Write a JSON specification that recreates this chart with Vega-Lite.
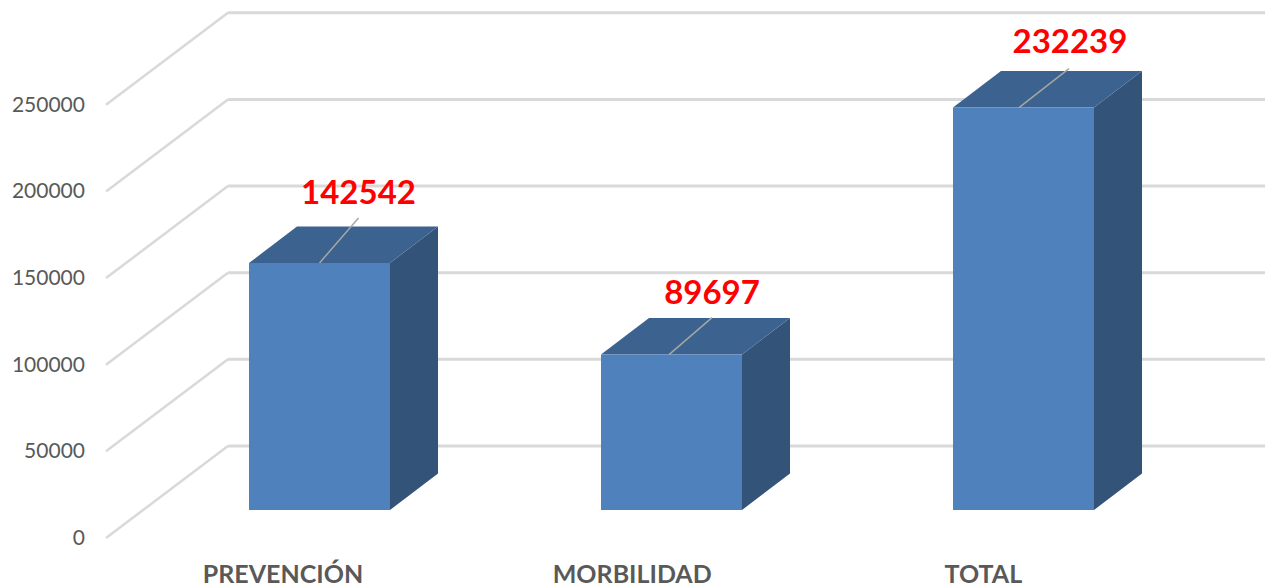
{
"$schema":"https://vega.github.io/schema/vega-lite/v6.json",
"width":1265,"height":587,
"autosize":{"type":"none"},
"padding":0,
"background":"#ffffff",
"config":{"view":{"stroke":null}},
"datasets":{
"barras":[{"categoria":"PREVENCIÓN","valor":142542},{"categoria":"MORBILIDAD","valor":89697},{"categoria":"TOTAL","valor":232239}],
"marcas":[{"marca":0},{"marca":50000},{"marca":100000},{"marca":150000},{"marca":200000},{"marca":250000}]
},
"layer":[
{"data":{"name":"marcas"},
 "transform":[{"calculate":"datum.marca+36936","as":"fondo"},{"calculate":"-0.26","as":"x0"},{"calculate":"2.6861","as":"x1"}],
 "mark":{"type":"rule","color":"#d9d9d9","strokeWidth":3},
 "encoding":{"x":{"field":"x0","type":"quantitative","axis":null,"scale":{"domain":[-0.90767,2.6861],"nice":false,"zero":false}},"x2":{"field":"x1"},"y":{"field":"fondo","type":"quantitative","axis":null,"scale":{"domain":[-44436,294320],"nice":false,"zero":false}}}},
{"data":{"name":"marcas"},
 "transform":[{"calculate":"datum.marca+36936","as":"fondo"},{"calculate":"datum.marca-16160","as":"frente"},{"calculate":"-0.6065","as":"x0"},{"calculate":"-0.26","as":"x1"}],
 "mark":{"type":"rule","color":"#d9d9d9","strokeWidth":2.5},
 "encoding":{"x":{"field":"x0","type":"quantitative","axis":null},"x2":{"field":"x1"},"y":{"field":"frente","type":"quantitative","axis":null},"y2":{"field":"fondo"}}},
{"data":{"name":"marcas"},
 "transform":[{"calculate":"datum.marca-16700","as":"yt"},{"calculate":"-0.6662","as":"xt"}],
 "mark":{"type":"text","align":"right","baseline":"middle","font":"Lato","fontSize":21,"color":"#595959"},
 "encoding":{"x":{"field":"xt","type":"quantitative","axis":null},"y":{"field":"yt","type":"quantitative","axis":null},"text":{"field":"marca","type":"nominal"}}},
{"data":{"name":"barras"},
 "transform":[
  {"calculate":"indexof(['PREVENCIÓN','MORBILIDAD','TOTAL'],datum.categoria)","as":"i"},
  {"calculate":"[0,1]","as":"k"},{"flatten":["k"]},
  {"calculate":"datum.i+0.2003+datum.k*0.1364","as":"ax"},
  {"calculate":"datum.valor+datum.k*21064","as":"ay"},
  {"calculate":"datum.k*21064","as":"ay2"}],
 "mark":{"type":"area","color":"#335379","opacity":1,"orient":"vertical"},
 "encoding":{"x":{"field":"ax","type":"quantitative","axis":null},"y":{"field":"ay","type":"quantitative","axis":null,"stack":null},"y2":{"field":"ay2"},"detail":{"field":"categoria","type":"nominal"}}},
{"data":{"name":"barras"},
 "transform":[
  {"calculate":"indexof(['PREVENCIÓN','MORBILIDAD','TOTAL'],datum.categoria)","as":"i"},
  {"calculate":"[0,1,2,3]","as":"k"},{"flatten":["k"]},
  {"calculate":"datum.i-0.2003+[0,0.1364,0.4006,0.537][datum.k]","as":"ax"},
  {"calculate":"datum.valor+[0,21064,21064,21064][datum.k]","as":"ay"},
  {"calculate":"datum.valor+[0,0,0,21064][datum.k]","as":"ay2"}],
 "mark":{"type":"area","color":"#3c6390","opacity":1,"orient":"vertical"},
 "encoding":{"x":{"field":"ax","type":"quantitative","axis":null},"y":{"field":"ay","type":"quantitative","axis":null,"stack":null},"y2":{"field":"ay2"},"detail":{"field":"categoria","type":"nominal"}}},
{"data":{"name":"barras"},
 "transform":[
  {"calculate":"indexof(['PREVENCIÓN','MORBILIDAD','TOTAL'],datum.categoria)","as":"i"},
  {"calculate":"datum.i-0.2003","as":"x0"},{"calculate":"datum.i+0.2003","as":"x1"},{"calculate":"0","as":"base"}],
 "mark":{"type":"rect","color":"#4f81bd"},
 "encoding":{"x":{"field":"x0","type":"quantitative","axis":null},"x2":{"field":"x1"},"y":{"field":"valor","type":"quantitative","axis":null},"y2":{"field":"base"}}},
{"data":{"name":"barras"},
 "transform":[
  {"calculate":"indexof(['PREVENCIÓN','MORBILIDAD','TOTAL'],datum.categoria)","as":"i"},
  {"calculate":"datum.i+[0,-0.007,-0.0128][datum.i]","as":"x0"},
  {"calculate":"datum.x0+[0.1108,0.122,0.142][datum.i]","as":"x1"},
  {"calculate":"datum.valor+[25970,21353,22500][datum.i]","as":"y1"}],
 "mark":{"type":"rule","color":"#a6a6a6","strokeWidth":1.5},
 "encoding":{"x":{"field":"x0","type":"quantitative","axis":null},"x2":{"field":"x1"},"y":{"field":"valor","type":"quantitative","axis":null},"y2":{"field":"y1"}}},
{"data":{"name":"barras"},
 "transform":[
  {"calculate":"indexof(['PREVENCIÓN','MORBILIDAD','TOTAL'],datum.categoria)","as":"i"},
  {"calculate":"datum.i+[0.1108,0.115,0.132][datum.i]","as":"xt"},
  {"calculate":"datum.valor+[39900,35000,37000][datum.i]","as":"yt"}],
 "mark":{"type":"text","align":"center","baseline":"middle","font":"Lato","fontWeight":"bold","fontSize":33,"color":"#ff0000"},
 "encoding":{"x":{"field":"xt","type":"quantitative","axis":null},"y":{"field":"yt","type":"quantitative","axis":null},"text":{"field":"valor","type":"nominal"}}},
{"data":{"name":"barras"},
 "transform":[
  {"calculate":"indexof(['PREVENCIÓN','MORBILIDAD','TOTAL'],datum.categoria)","as":"i"},
  {"calculate":"datum.i+[-0.1037,-0.1115,-0.114][datum.i]","as":"xt"},
  {"calculate":"-37500","as":"yt"}],
 "mark":{"type":"text","align":"center","baseline":"middle","font":"Lato","fontWeight":"bold","fontSize":25,"color":"#595959"},
 "encoding":{"x":{"field":"xt","type":"quantitative","axis":null},"y":{"field":"yt","type":"quantitative","axis":null},"text":{"field":"categoria","type":"nominal"}}}
]
}
